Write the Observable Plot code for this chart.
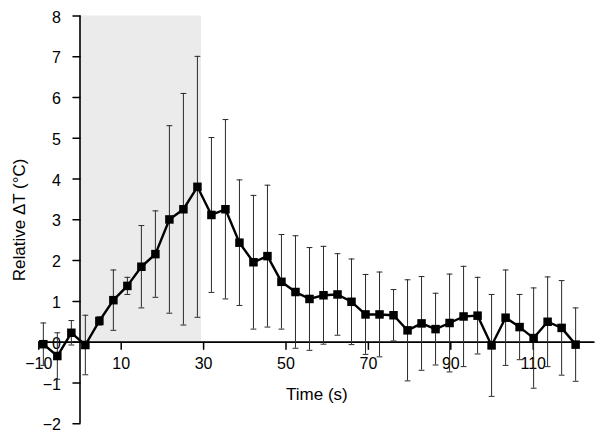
<!DOCTYPE html>
<html><head><meta charset="utf-8">
<script src="https://cdn.jsdelivr.net/npm/d3@7"></script>
<script src="https://cdn.jsdelivr.net/npm/@observablehq/plot@0.6"></script>
<style>body{margin:0;background:#fff}</style>
</head><body><div id="chart"></div>
<script>
const times = [-8.9, -5.5, -2.1, 1.3, 4.7, 8.1, 11.5, 14.9, 18.3, 21.7, 25.1, 28.5, 31.9, 35.3, 38.7, 42.1, 45.5, 48.9, 52.3, 55.7, 59.1, 62.5, 65.9, 69.3, 72.7, 76.1, 79.5, 82.9, 86.3, 89.7, 93.1, 96.5, 99.9, 103.3, 106.7, 110.1, 113.5, 116.9, 120.3];
const means = [-0.05, -0.34, 0.23, -0.07, 0.52, 1.03, 1.38, 1.85, 2.16, 3.01, 3.26, 3.81, 3.12, 3.26, 2.44, 1.96, 2.11, 1.48, 1.23, 1.06, 1.15, 1.17, 0.99, 0.68, 0.68, 0.66, 0.29, 0.46, 0.32, 0.47, 0.63, 0.65, -0.08, 0.60, 0.37, 0.10, 0.50, 0.35, -0.06];
const errs = [0.52, 0.57, 0.30, 0.73, 0.10, 0.74, 0.21, 1.01, 1.06, 2.30, 2.84, 3.20, 1.90, 2.20, 1.54, 1.64, 1.74, 1.16, 1.38, 1.26, 1.20, 1.00, 1.05, 0.98, 1.04, 0.63, 1.24, 1.15, 0.88, 1.20, 1.23, 0.94, 1.25, 1.17, 0.80, 1.23, 1.10, 1.16, 0.90];
const xTicks = [-10, 10, 30, 50, 70, 90, 110];
const yTicks = [-2, -1, 0, 1, 2, 3, 4, 5, 6, 7, 8];
const stimulus = [{start: 0, end: 29.5, bottom: 0, top: 8}];
const xLabel = "Time (s)";
const yLabel = "Relative ΔT (°C)";

const data = times.map((t, i) => ({t, mean: means[i], err: errs[i]}));
const lineShape = {draw(ctx, l) { ctx.moveTo(0, 0); ctx.lineTo(0, -l); }};
const fmt = d => d < 0 ? "\u2212" + Math.abs(d) : String(d);
const font = "'Liberation Sans', Arial, Helvetica, sans-serif";

const chart = Plot.plot({
  width: 600, height: 438,
  marginLeft: 38.3, marginRight: 5.5, marginTop: 15.5, marginBottom: 14.8,
  x: {domain: [-10, 125], axis: null},
  y: {domain: [-2, 8], axis: null},
  style: {fontFamily: font, background: "#fff", overflow: "visible", color: "black"},
  marks: [
    Plot.rect(stimulus, {x1: "start", x2: "end", y1: "bottom", y2: "top", fill: "#ebebeb"}),
    Plot.text(yTicks, {x: 0, y: d => d, text: fmt, dx: -19, dy: 1.5, textAnchor: "end", lineAnchor: "middle", fontSize: 16, fill: "black"}),
    Plot.text(xTicks, {x: d => d, y: 0, text: fmt, dy: 22, textAnchor: "middle", lineAnchor: "middle", fontSize: 16, fill: "black"}),
    Plot.text([yLabel], {frameAnchor: "left", rotate: -90, dx: -19.5, textAnchor: "middle", lineAnchor: "middle", fontSize: 17, fill: "black"}),
    Plot.text([xLabel], {frameAnchor: "bottom", dy: -29, textAnchor: "middle", lineAnchor: "middle", fontSize: 17, fill: "black"}),
    Plot.ruleY([0], {stroke: "black", strokeWidth: 1.8}),
    Plot.ruleX([0], {stroke: "black", strokeWidth: 1.6}),
    Plot.vector(yTicks, {x: 0, y: d => d, length: 7, rotate: -90, anchor: "start", shape: lineShape, stroke: "black", strokeWidth: 1.5}),
    Plot.vector(xTicks, {x: d => d, y: 0, length: 7, rotate: 180, anchor: "start", shape: lineShape, stroke: "black", strokeWidth: 1.5}),
    Plot.ruleX(data, {x: "t", y1: d => d.mean - d.err, y2: d => d.mean + d.err, stroke: "#2a2a2a", strokeWidth: 1}),
    Plot.vector(data, {x: "t", y: d => d.mean + d.err, length: 5, rotate: 90, anchor: "middle", shape: lineShape, stroke: "#2a2a2a", strokeWidth: 1}),
    Plot.vector(data, {x: "t", y: d => d.mean - d.err, length: 5, rotate: 90, anchor: "middle", shape: lineShape, stroke: "#2a2a2a", strokeWidth: 1}),
    Plot.line(data, {x: "t", y: "mean", stroke: "black", strokeWidth: 2.4}),
    Plot.dot(data, {x: "t", y: "mean", symbol: "square", r: 4.8, fill: "black", stroke: "none"})
  ]
});
document.getElementById("chart").appendChild(chart);
</script>
</body></html>
